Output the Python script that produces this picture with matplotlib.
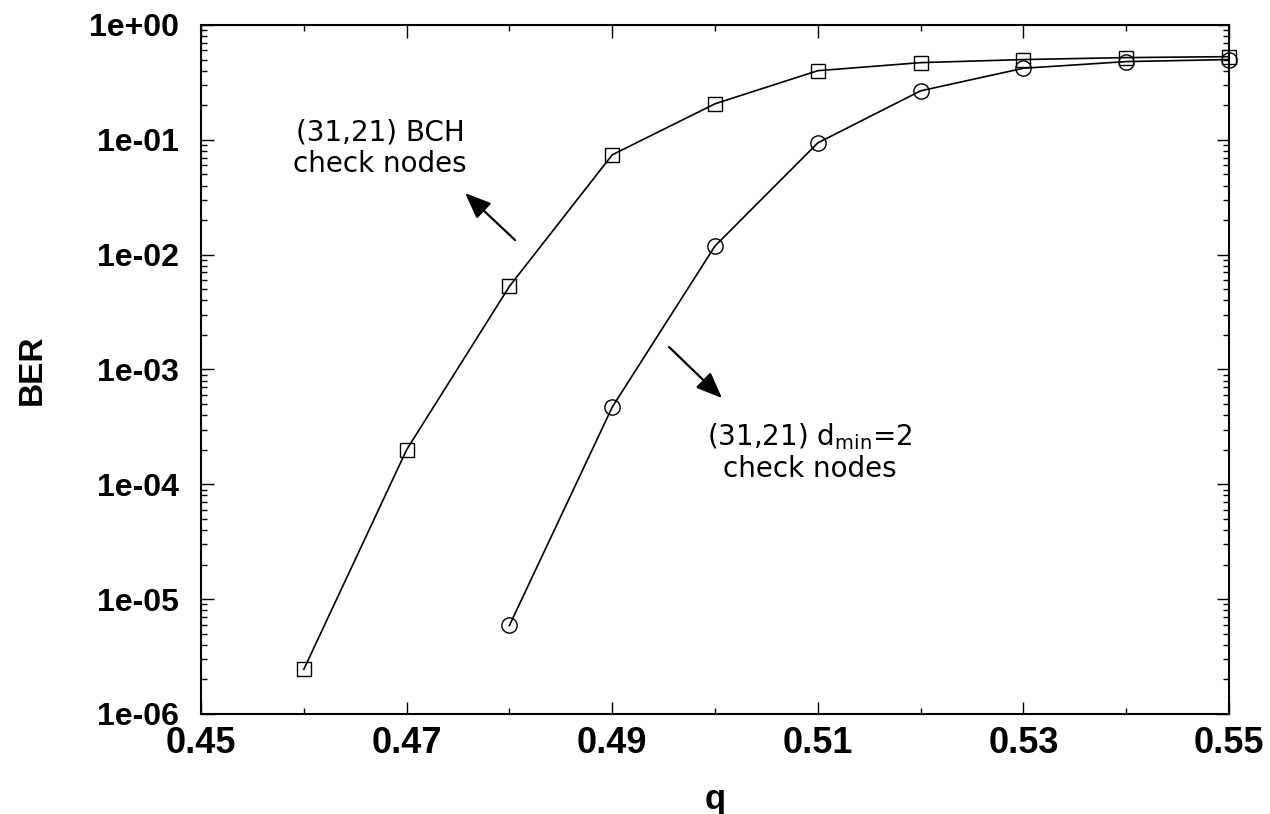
import numpy as np
import matplotlib
matplotlib.use("Agg")
from matplotlib import pyplot as plt
from matplotlib.ticker import LogLocator, MultipleLocator, NullFormatter, FixedLocator

# ---- data ----
q_bch = [0.46, 0.47, 0.48, 0.49, 0.50, 0.51, 0.52, 0.53, 0.54, 0.55]
ber_bch = [2.45e-6, 2.0e-4, 5.3e-3, 7.4e-2, 0.206, 0.40, 0.47, 0.50, 0.52, 0.53]

q_dmin = [0.48, 0.49, 0.50, 0.51, 0.52, 0.53, 0.54, 0.55]
ber_dmin = [5.9e-6, 4.7e-4, 1.19e-2, 9.4e-2, 0.267, 0.42, 0.48, 0.50]

x_ticks = [0.45, 0.47, 0.49, 0.51, 0.53, 0.55]
x_labels = ["0.45", "0.47", "0.49", "0.51", "0.53", "0.55"]
y_ticks = [1e-6, 1e-5, 1e-4, 1e-3, 1e-2, 1e-1, 1e0]
y_labels = ["1e-06", "1e-05", "1e-04", "1e-03", "1e-02", "1e-01", "1e+00"]

fig = plt.figure(figsize=(12.7, 8.14), dpi=100)
ax = fig.add_axes([0.1583, 0.1229, 0.8094, 0.8464])

ax.plot(q_bch, ber_bch, color="black", lw=1.2, marker="s", ms=10,
        mfc="none", mec="black", mew=1.0, clip_on=False, zorder=3)
ax.plot(q_dmin, ber_dmin, color="black", lw=1.2, marker="o", ms=11,
        mfc="none", mec="black", mew=1.0, clip_on=False, zorder=3)

ax.set_yscale("log")
ax.set_xlim(0.45, 0.55)
ax.set_ylim(1e-6, 1e0)

ax.xaxis.set_major_locator(FixedLocator(x_ticks))
ax.set_xticklabels(x_labels)
ax.xaxis.set_minor_locator(MultipleLocator(0.01))
ax.yaxis.set_major_locator(FixedLocator(y_ticks))
ax.set_yticklabels(y_labels)
ax.yaxis.set_minor_locator(LogLocator(base=10, subs=np.arange(2, 10)))
ax.yaxis.set_minor_formatter(NullFormatter())

ax.tick_params(which="both", direction="in", top=True, right=True, width=1.0)
ax.tick_params(which="major", length=9)
ax.tick_params(which="minor", length=4.5)
ax.tick_params(axis="x", which="major", pad=9)
ax.tick_params(axis="y", which="major", pad=16)
for lab in ax.get_xticklabels():
    lab.set_fontfamily("Liberation Sans")
    lab.set_fontweight("bold")
    lab.set_fontsize(26)
for lab in ax.get_yticklabels():
    lab.set_fontfamily("Liberation Sans")
    lab.set_fontweight("bold")
    lab.set_fontsize(23)
for s in ax.spines.values():
    s.set_linewidth(1.5)

ax.set_xlabel("q", fontsize=25, fontweight="bold", family="Liberation Sans", va="center")
ax.xaxis.set_label_coords(0.5, -0.124)
ax.set_ylabel("BER", fontsize=24, fontweight="bold", family="Liberation Sans", va="center")
ax.yaxis.set_label_coords(-0.1644, 0.5)

# annotations
ax.text(0.46741, 0.085, "(31,21) BCH\ncheck nodes", ha="center", va="center",
        fontsize=20, family="DejaVu Sans", linespacing=1.15)
ax.annotate("", xy=(0.47568, 0.0344), xytext=(0.48055, 0.0134),
            arrowprops=dict(arrowstyle="-|>,head_length=1.6,head_width=0.65",
                            color="black", lw=1.6, shrinkA=0, shrinkB=0))

ax.text(0.50924, 1.9e-4, "(31,21) d$_{\\mathregular{min}}$=2\ncheck nodes", ha="center", va="center",
        fontsize=20, family="DejaVu Sans", linespacing=1.15)
ax.annotate("", xy=(0.50068, 5.63e-4), xytext=(0.49553, 1.57e-3),
            arrowprops=dict(arrowstyle="-|>,head_length=1.6,head_width=0.65",
                            color="black", lw=1.6, shrinkA=0, shrinkB=0))

fig.savefig("out.png", dpi=100)
